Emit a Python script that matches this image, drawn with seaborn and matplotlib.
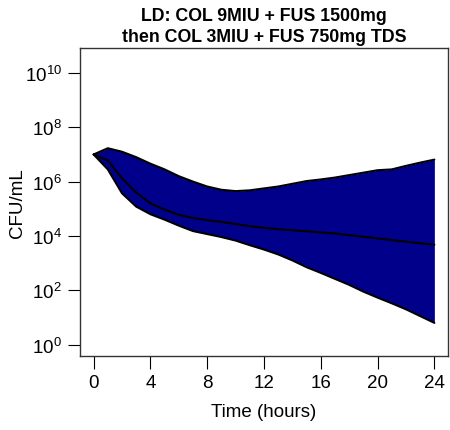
import numpy as np
import pandas as pd
import matplotlib
matplotlib.use("Agg")
import matplotlib.pyplot as plt
import seaborn as sns
from matplotlib.ticker import FixedLocator, LogFormatterSciNotation, NullLocator

# Data (log10 CFU/mL)
time_h = list(range(0, 25))
upper_log10 = [7.0, 7.23, 7.1, 6.9, 6.66, 6.45, 6.2, 6.0, 5.82, 5.7, 5.65, 5.68, 5.75,
               5.82, 5.92, 6.02, 6.08, 6.15, 6.24, 6.33, 6.42, 6.45, 6.58, 6.7, 6.81]
median_log10 = [7.0, 6.78, 6.12, 5.6, 5.2, 4.97, 4.78, 4.66, 4.58, 4.52, 4.44, 4.36, 4.3,
                4.25, 4.21, 4.17, 4.13, 4.09, 4.03, 3.97, 3.91, 3.85, 3.79, 3.73, 3.68]
lower_log10 = [7.0, 6.45, 5.57, 5.08, 4.8, 4.6, 4.38, 4.18, 4.07, 3.96, 3.83, 3.66, 3.5,
               3.32, 3.1, 2.85, 2.64, 2.42, 2.2, 1.95, 1.73, 1.52, 1.3, 1.05, 0.8]
x_ticks = [0, 4, 8, 12, 16, 20, 24]
y_ticks = [1e0, 1e2, 1e4, 1e6, 1e8, 1e10]
title = "LD: COL 9MIU + FUS 1500mg\nthen COL 3MIU + FUS 750mg TDS"

df = pd.DataFrame({
    "time": time_h,
    "upper": 10 ** np.array(upper_log10),
    "median": 10 ** np.array(median_log10),
    "lower": 10 ** np.array(lower_log10),
})

sns.set_style("white")
plt.rcParams["font.family"] = ["Liberation Sans", "DejaVu Sans"]
plt.rcParams["mathtext.default"] = "regular"
plt.rcParams["text.color"] = "black"
plt.rcParams["axes.labelcolor"] = "black"
plt.rcParams["xtick.color"] = "black"
plt.rcParams["ytick.color"] = "black"

fig = plt.figure(figsize=(4.5, 4.31), dpi=100)
ax = fig.add_axes([80 / 450, 1 - 357 / 431, 368 / 450, 308 / 431])

ax.fill_between(df["time"], df["lower"], df["upper"], color="#00008B", linewidth=0, zorder=1)
for col in ["upper", "lower", "median"]:
    sns.lineplot(data=df, x="time", y=col, ax=ax, color="black", linewidth=1.5, zorder=3)

ax.set_yscale("log")
ax.set_xlim(-0.96, 24.96)
ax.set_ylim(10 ** -0.42, 10 ** 10.92)
ax.xaxis.set_major_locator(FixedLocator(x_ticks))
ax.yaxis.set_major_locator(FixedLocator(y_ticks))
ax.yaxis.set_minor_locator(NullLocator())
ax.yaxis.set_major_formatter(LogFormatterSciNotation())
ax.tick_params(axis="both", which="major", direction="out", length=9, width=0.8,
               labelsize=13.5, colors="black", pad=4, bottom=True, left=True)
for s in ax.spines.values():
    s.set_color("#333333")
    s.set_linewidth(1.0)

ax.set_xlabel("Time (hours)", fontsize=13.5, va="center")
ax.set_ylabel("CFU/mL", fontsize=13.5, va="center")
ax.xaxis.set_label_coords(0.5, -(413 - 357) / 308)
ax.yaxis.set_label_coords(-(80 - 18) / 368, 0.5)
ax.set_title(title, fontsize=12.8, fontweight="bold", pad=5, linespacing=1.3, color="black")

fig.savefig("out.png", dpi=100)
